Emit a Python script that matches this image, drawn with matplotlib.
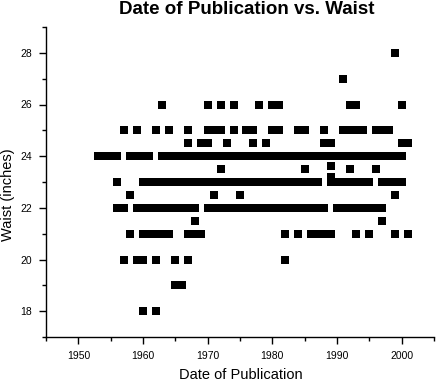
import matplotlib
matplotlib.use("Agg")
from matplotlib import pyplot as plt
from matplotlib.ticker import MultipleLocator

# years of publication for each waist size (inches)
waist_28 = [1999]
waist_27 = [1991]
waist_26 = [1963, 1970, 1972, 1974, 1978, 1980, 1981, 1992, 1993, 2000]
waist_25 = [1957, 1959, 1962, 1964, 1967, 1970, 1971, 1972, 1974, 1976, 1977,
            1980, 1981, 1984, 1985, 1988, 1991, 1992, 1993, 1994, 1996, 1997, 1998]
waist_245 = [1967, 1969, 1970, 1973, 1977, 1979, 1988, 1989, 2000, 2001]
waist_24 = [1953, 1954, 1955, 1956, 1958, 1959, 1960, 1961] + list(range(1963, 2001))
waist_236 = [1989]
waist_235 = [1972, 1985, 1992, 1996]
waist_232 = [1989]
waist_23 = [1956] + list(range(1960, 1988)) + list(range(1989, 1996)) + list(range(1997, 2001))
waist_225 = [1958, 1971, 1975, 1999]
waist_22 = [1956, 1957] + list(range(1959, 1969)) + list(range(1970, 1989)) + list(range(1990, 1998))
waist_215 = [1968, 1997]
waist_21 = [1958, 1960, 1961, 1962, 1963, 1964, 1967, 1968, 1969, 1982, 1984,
            1986, 1987, 1988, 1989, 1993, 1995, 1999, 2001]
waist_20 = [1957, 1959, 1960, 1962, 1965, 1967, 1982]
waist_19 = [1965, 1966]
waist_18 = [1960, 1962]

groups = [
    (28, waist_28), (27, waist_27), (26, waist_26), (25, waist_25),
    (24.5, waist_245), (24, waist_24), (23.6, waist_236), (23.5, waist_235),
    (23.2, waist_232), (23, waist_23), (22.5, waist_225), (22, waist_22),
    (21.5, waist_215), (21, waist_21), (20, waist_20), (19, waist_19), (18, waist_18),
]

years = []
waists = []
for w, ys in groups:
    for yr in ys:
        years.append(yr)
        waists.append(w)

plt.rcParams["font.family"] = ["Liberation Sans", "DejaVu Sans"]

W, H = 437, 381
fig = plt.figure(figsize=(W / 100, H / 100), dpi=100)
ax = fig.add_axes([46 / W, 44 / H, 388 / W, 310 / H])

ax.scatter(years, waists, marker="s", s=27, c="black", linewidths=0)

ax.set_xlim(1945, 2005)
ax.set_ylim(17, 29)
ax.xaxis.set_major_locator(MultipleLocator(10))
ax.xaxis.set_minor_locator(MultipleLocator(5))
ax.yaxis.set_major_locator(MultipleLocator(2))
ax.yaxis.set_minor_locator(MultipleLocator(1))

for side in ["top", "right"]:
    ax.spines[side].set_visible(False)
for side in ["left", "bottom"]:
    ax.spines[side].set_linewidth(1.0)

ax.tick_params(which="major", direction="out", length=5, width=1, labelsize=7.5, pad=5)
ax.tick_params(which="minor", direction="out", length=3, width=1)

# labels and title placed in figure pixels
fig.text(241 / W, 1 - 375 / H, "Date of Publication", fontsize=10.5,
         ha="center", va="center")
fig.text(8 / W, 1 - 195 / H, "Waist (inches)", fontsize=10.5, rotation=90,
         ha="center", va="center")
fig.text(247 / W, 1 - 14 / H, "Date of Publication vs. Waist", fontsize=13.5,
         fontweight="bold", ha="center", va="baseline")

fig.savefig("out.png", dpi=100)
